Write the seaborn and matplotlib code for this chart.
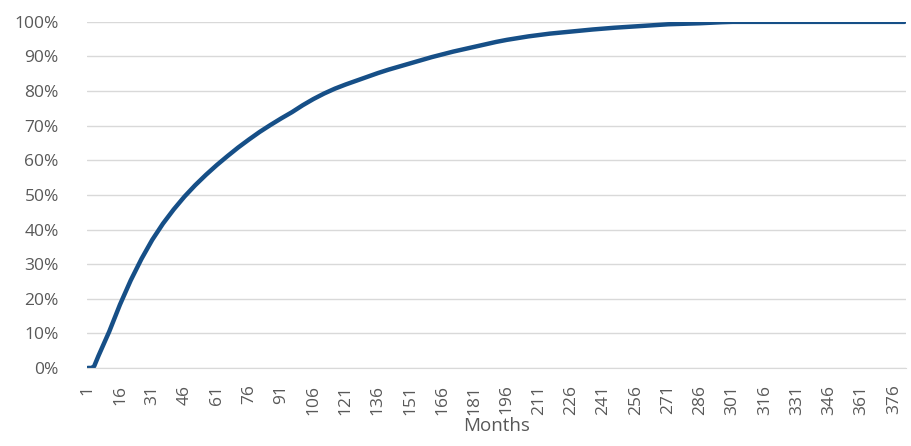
import numpy as np
import pandas as pd
import seaborn as sns
import matplotlib.pyplot as plt
from matplotlib.ticker import PercentFormatter

# Cumulative share, every 5 months (month 1 -> 381)
months = [1, 2, 3, 4, 6, 11, 16, 21, 26, 31, 36, 41, 46, 51, 56, 61, 66, 71, 76,
          81, 86, 91, 96, 101, 106, 111, 116, 121, 126, 131, 136, 141, 146, 151,
          156, 161, 166, 171, 176, 181, 186, 191, 196, 201, 206, 211, 216, 221,
          226, 231, 236, 241, 246, 251, 256, 261, 266, 271, 276, 281, 286, 291,
          296, 301, 306, 311, 316, 321, 326, 331, 336, 341, 346, 351, 356, 361,
          366, 371, 376, 381]
share = [0.0, 0.0, 0.0, 0.5, 3.5, 10.5, 18.3, 25.3, 31.5, 37.0, 41.7, 45.8, 49.5,
         52.8, 55.8, 58.6, 61.2, 63.7, 66.0, 68.2, 70.2, 72.1, 73.9, 75.9, 77.7,
         79.3, 80.7, 81.9, 83.0, 84.1, 85.2, 86.2, 87.1, 88.0, 88.9, 89.8, 90.6,
         91.4, 92.1, 92.8, 93.5, 94.2, 94.8, 95.3, 95.8, 96.2, 96.6, 96.9, 97.2,
         97.5, 97.8, 98.05, 98.3, 98.5, 98.7, 98.9, 99.1, 99.3, 99.4, 99.5, 99.6,
         99.75, 99.9, 100.0, 100.0, 100.0, 100.0, 100.0, 100.0, 100.0, 100.0,
         100.0, 100.0, 100.0, 100.0, 100.0, 100.0, 100.0, 100.0, 100.0]
tick_months = list(range(1, 377, 15))

df = pd.DataFrame({"month": months, "share": np.array(share) / 100})

sns.set_style("white")
plt.rcParams["font.family"] = ["Open Sans", "DejaVu Sans"]

fig, ax = plt.subplots(figsize=(9.12, 4.46), dpi=100)
fig.subplots_adjust(left=0.095, right=0.993, top=0.951, bottom=0.175)

sns.lineplot(data=df, x="month", y="share", color="#164F87", linewidth=3.2, ax=ax)

ax.set_xlim(0.5, 381.5)
ax.set_ylim(0, 1)
ax.set_yticks(np.arange(0, 1.01, 0.1))
ax.yaxis.set_major_formatter(PercentFormatter(1.0, decimals=0))
ax.set_xticks(tick_months)
ax.set_xticklabels([str(m) for m in tick_months], rotation=90)

ax.grid(axis="y", color="#D9D9D9", linewidth=1)
ax.set_axisbelow(True)
for side in ["top", "right", "left"]:
    ax.spines[side].set_visible(False)
ax.spines["bottom"].set_color("#D9D9D9")

ax.tick_params(axis="both", length=0, labelsize=12.5, colors="#595959")
ax.tick_params(axis="x", pad=12)
ax.tick_params(axis="y", pad=20)
ax.set_xlabel("Months", fontsize=13.5, color="#595959", labelpad=2)
ax.set_ylabel("")

fig.savefig("out.png", dpi=100)
